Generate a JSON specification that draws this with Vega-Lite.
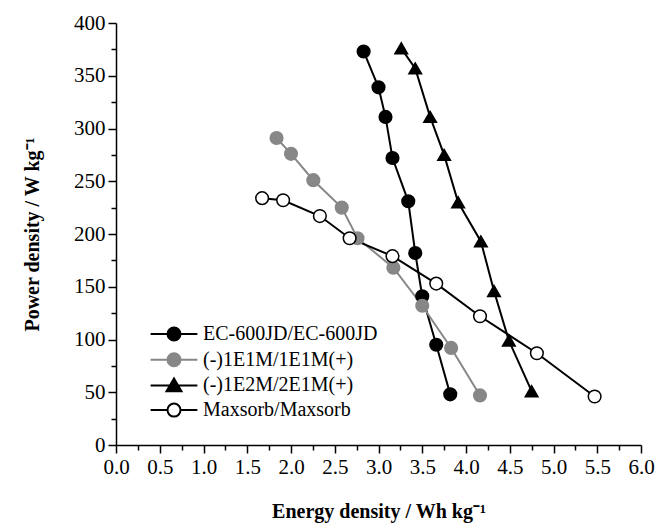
{
  "$schema": "https://vega.github.io/schema/vega-lite/v6.json",
  "width": 525,
  "height": 422,
  "autosize": {"type": "none"},
  "padding": {"left": 116, "top": 23, "right": 29, "bottom": 85},
  "background": "white",
  "config": {
    "view": {"stroke": null},
    "font": "Liberation Serif",
    "axis": {
      "grid": false,
      "domainColor": "black",
      "domainWidth": 1.5,
      "tickColor": "black",
      "tickWidth": 1.5,
      "labelFont": "Liberation Serif",
      "labelFontSize": 21,
      "labelColor": "black",
      "titleFont": "Liberation Serif",
      "titleFontSize": 20,
      "titleFontWeight": "bold",
      "titleColor": "black"
    }
  },
  "datasets": {
    "d": [
      {"series": "EC-600JD/EC-600JD", "energy": 2.83, "power": 373},
      {"series": "EC-600JD/EC-600JD", "energy": 3.00, "power": 339},
      {"series": "EC-600JD/EC-600JD", "energy": 3.08, "power": 311},
      {"series": "EC-600JD/EC-600JD", "energy": 3.16, "power": 272},
      {"series": "EC-600JD/EC-600JD", "energy": 3.34, "power": 231},
      {"series": "EC-600JD/EC-600JD", "energy": 3.42, "power": 182},
      {"series": "EC-600JD/EC-600JD", "energy": 3.50, "power": 141},
      {"series": "EC-600JD/EC-600JD", "energy": 3.66, "power": 95},
      {"series": "EC-600JD/EC-600JD", "energy": 3.82, "power": 48},
      {"series": "(-)1E1M/1E1M(+)", "energy": 1.835, "power": 291},
      {"series": "(-)1E1M/1E1M(+)", "energy": 2.00, "power": 276},
      {"series": "(-)1E1M/1E1M(+)", "energy": 2.255, "power": 251},
      {"series": "(-)1E1M/1E1M(+)", "energy": 2.58, "power": 225},
      {"series": "(-)1E1M/1E1M(+)", "energy": 2.76, "power": 196},
      {"series": "(-)1E1M/1E1M(+)", "energy": 3.17, "power": 168},
      {"series": "(-)1E1M/1E1M(+)", "energy": 3.50, "power": 132},
      {"series": "(-)1E1M/1E1M(+)", "energy": 3.83, "power": 92},
      {"series": "(-)1E1M/1E1M(+)", "energy": 4.16, "power": 47},
      {"series": "(-)1E2M/2E1M(+)", "energy": 3.26, "power": 376},
      {"series": "(-)1E2M/2E1M(+)", "energy": 3.42, "power": 357},
      {"series": "(-)1E2M/2E1M(+)", "energy": 3.59, "power": 311},
      {"series": "(-)1E2M/2E1M(+)", "energy": 3.75, "power": 275},
      {"series": "(-)1E2M/2E1M(+)", "energy": 3.91, "power": 230},
      {"series": "(-)1E2M/2E1M(+)", "energy": 4.17, "power": 193},
      {"series": "(-)1E2M/2E1M(+)", "energy": 4.32, "power": 146},
      {"series": "(-)1E2M/2E1M(+)", "energy": 4.49, "power": 99},
      {"series": "(-)1E2M/2E1M(+)", "energy": 4.75, "power": 51},
      {"series": "Maxsorb/Maxsorb", "energy": 1.67, "power": 234},
      {"series": "Maxsorb/Maxsorb", "energy": 1.91, "power": 232},
      {"series": "Maxsorb/Maxsorb", "energy": 2.33, "power": 217},
      {"series": "Maxsorb/Maxsorb", "energy": 2.67, "power": 196},
      {"series": "Maxsorb/Maxsorb", "energy": 3.16, "power": 179},
      {"series": "Maxsorb/Maxsorb", "energy": 3.66, "power": 153},
      {"series": "Maxsorb/Maxsorb", "energy": 4.16, "power": 122},
      {"series": "Maxsorb/Maxsorb", "energy": 4.81, "power": 87},
      {"series": "Maxsorb/Maxsorb", "energy": 5.47, "power": 46}
    ]
  },
  "data": {"name": "d"},
  "resolve": {
    "axis": {"x": "independent", "y": "independent"},
    "legend": {"color": "independent", "shape": "independent", "fill": "independent", "stroke": "independent", "size": "independent"}
  },
  "layer": [
    {
      "mark": {"type": "line", "strokeWidth": 2},
      "encoding": {
        "x": {
          "field": "energy", "type": "quantitative",
          "scale": {"domain": [0, 6], "nice": false, "zero": false},
          "axis": {
            "orient": "bottom",
            "values": [0, 0.5, 1, 1.5, 2, 2.5, 3, 3.5, 4, 4.5, 5, 5.5, 6],
            "format": ".1f",
            "tickSize": 8,
            "labelPadding": 3,
            "labelFont": "Liberation Serif",
            "labelFontSize": 21,
            "labelFlush": false,
            "labelOverlap": false,
            "title": "Energy density / Wh kg⁻¹",
            "titleFont": "Liberation Serif",
            "titlePadding": 24
          }
        },
        "y": {
          "field": "power", "type": "quantitative",
          "scale": {"domain": [0, 400], "nice": false},
          "axis": {
            "orient": "left",
            "values": [0, 50, 100, 150, 200, 250, 300, 350, 400],
            "tickSize": 8,
            "labelPadding": 3,
            "labelFont": "Liberation Serif",
            "labelFontSize": 21,
            "labelFlush": false,
            "labelOverlap": false,
            "title": "Power density / W kg⁻¹",
            "titleFont": "Liberation Serif",
            "titlePadding": 31
          }
        },
        "color": {
          "field": "series", "type": "nominal",
          "sort": ["EC-600JD/EC-600JD", "(-)1E1M/1E1M(+)", "(-)1E2M/2E1M(+)", "Maxsorb/Maxsorb"],
          "scale": {
            "domain": ["EC-600JD/EC-600JD", "(-)1E1M/1E1M(+)", "(-)1E2M/2E1M(+)", "Maxsorb/Maxsorb"],
            "range": ["#000000", "#878787", "#000000", "#000000"]
          },
          "legend": {
            "orient": "none",
            "legendX": 48,
            "legendY": 301,
            "title": null,
            "padding": 0,
            "symbolType": "circle",
            "symbolSize": 169,
            "symbolStrokeWidth": 2,
            "labelFont": "Liberation Serif",
            "labelFontSize": 20,
            "labelColor": "black",
            "labelLimit": 400,
            "labelOffset": 19,
            "rowPadding": 3.7,
            "encode": {
              "symbols": {
                "update": {
                  "shape": {"signal": "datum.value === '(-)1E2M/2E1M(+)' ? 'M-3.6,0L3.6,0M0,-1.05L1.15,0.9L-1.15,0.9Z' : (datum.value === 'Maxsorb/Maxsorb' ? 'M-3.6,0L-1,0M1,0L3.6,0M1,0A1,1 0 1 1 -1,0A1,1 0 1 1 1,0Z' : 'M-3.6,0L3.6,0M1,0A1,1 0 1 1 -1,0A1,1 0 1 1 1,0Z')"},
                  "fill": {"signal": "datum.value === '(-)1E1M/1E1M(+)' ? '#878787' : (datum.value === 'Maxsorb/Maxsorb' ? '#ffffff' : '#000000')"},
                  "stroke": {"signal": "datum.value === '(-)1E1M/1E1M(+)' ? '#878787' : '#000000'"},
                  "fillOpacity": {"value": 1},
                  "strokeOpacity": {"value": 1},
                  "opacity": {"value": 1}
                }
              }
            }
          }
        }
      }
    },
    {
      "mark": {"type": "point", "filled": false, "opacity": 1, "strokeWidth": 1.5},
      "encoding": {
        "x": {
          "field": "energy", "type": "quantitative",
          "scale": {"domain": [0, 6], "nice": false, "zero": false},
          "axis": {
            "orient": "bottom",
            "values": [0.25, 0.75, 1.25, 1.75, 2.25, 2.75, 3.25, 3.75, 4.25, 4.75, 5.25, 5.75],
            "labels": false,
            "domain": false,
            "tickSize": 5,
            "title": null
          }
        },
        "y": {
          "field": "power", "type": "quantitative",
          "scale": {"domain": [0, 400], "nice": false},
          "axis": {
            "orient": "left",
            "values": [25, 75, 125, 175, 225, 275, 325, 375],
            "labels": false,
            "domain": false,
            "tickSize": 5,
            "title": null
          }
        },
        "shape": {
          "field": "series", "type": "nominal",
          "scale": {
            "domain": ["EC-600JD/EC-600JD", "(-)1E1M/1E1M(+)", "(-)1E2M/2E1M(+)", "Maxsorb/Maxsorb"],
            "range": ["circle", "circle", "triangle-up", "circle"]
          },
          "legend": null
        },
        "size": {
          "field": "series", "type": "nominal",
          "scale": {
            "domain": ["EC-600JD/EC-600JD", "(-)1E1M/1E1M(+)", "(-)1E2M/2E1M(+)", "Maxsorb/Maxsorb"],
            "range": [160, 160, 225, 160]
          },
          "legend": null
        },
        "fill": {
          "field": "series", "type": "nominal",
          "scale": {
            "domain": ["EC-600JD/EC-600JD", "(-)1E1M/1E1M(+)", "(-)1E2M/2E1M(+)", "Maxsorb/Maxsorb"],
            "range": ["#000000", "#878787", "#000000", "#ffffff"]
          },
          "legend": null
        },
        "stroke": {
          "field": "series", "type": "nominal",
          "scale": {
            "domain": ["EC-600JD/EC-600JD", "(-)1E1M/1E1M(+)", "(-)1E2M/2E1M(+)", "Maxsorb/Maxsorb"],
            "range": ["#000000", "#878787", "#000000", "#000000"]
          },
          "legend": null
        }
      }
    }
  ]
}
